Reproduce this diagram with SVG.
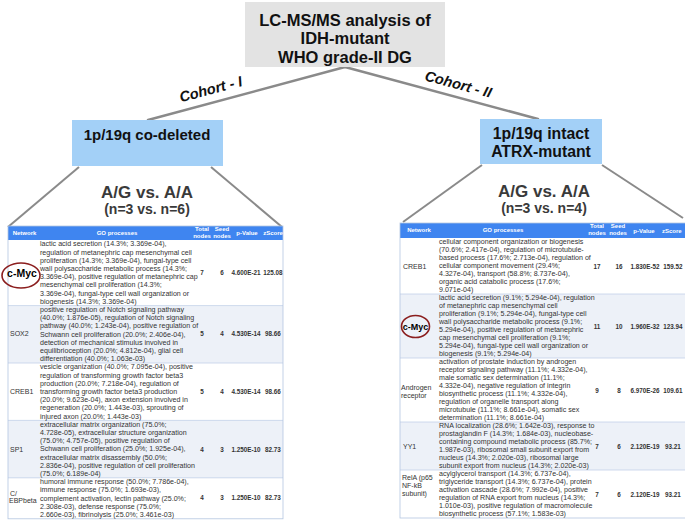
<svg xmlns="http://www.w3.org/2000/svg" width="685" height="521" viewBox="0 0 685 521">
<style>
text{font-family:"Liberation Sans",Arial,sans-serif}
.top{font-size:16.5px;font-weight:bold;fill:#111;text-anchor:middle}
.grp{font-size:15.8px;font-weight:bold;fill:#111;text-anchor:middle}
.cmp{font-size:17px;font-weight:bold;fill:#3a3a3a;text-anchor:middle}
.n{font-size:14px;font-weight:bold;fill:#3a3a3a;text-anchor:middle}
.coh{font-size:14.5px;font-weight:bold;font-style:italic;fill:#111;text-anchor:middle}
.hdr{font-size:6px;font-weight:bold;fill:#fff;text-anchor:middle}
.go{font-size:7.1px;fill:#333}
.net{font-size:7px;fill:#333}
.val{font-size:6.3px;font-weight:bold;fill:#333;text-anchor:middle}
.myc{font-weight:bold;fill:#000;text-anchor:middle}
.conn{stroke:#8a8a8a;stroke-width:2.5;fill:none;stroke-linecap:round}
.trap{stroke:#8a8a8a;stroke-width:2;fill:none}
.hbar{fill:#3f85f0}
.alt{fill:#edf1f8}
.sep{stroke:#c3d1e8;stroke-width:0.8}
.frame{fill:none;stroke:#b3c5e0;stroke-width:0.8}
.ring{fill:none;stroke:#8b1e1e;stroke-width:1.6}
</style>

<g id="connectors">
  <line class="conn" x1="345" y1="67" x2="148" y2="120"/>
  <line class="conn" x1="345" y1="67" x2="538" y2="119"/>
  <line class="trap" x1="79" y1="167" x2="8" y2="227"/>
  <line class="trap" x1="211" y1="167" x2="282" y2="227"/>
  <line class="trap" x1="482" y1="165" x2="403" y2="222"/>
  <line class="trap" x1="602" y1="165" x2="683" y2="218"/>
  <text class="coh" transform="translate(212,94) rotate(-15)">Cohort - I</text>
  <text class="coh" transform="translate(457,89) rotate(15)">Cohort - II</text>
</g>

<g id="root">
  <rect x="245" y="2" width="200" height="65" fill="#e3e3e3"/>
  <text class="top" x="345" y="25.5">LC-MS/MS analysis of</text>
  <text class="top" x="345" y="44">IDH-mutant</text>
  <text class="top" x="345" y="62.5">WHO grade-II DG</text>
</g>

<g id="cohort1">
  <rect x="72" y="120" width="151" height="46" fill="#a3d0f7"/>
  <text class="grp" x="147" y="140" style="font-size:15px">1p/19q co-deleted</text>
  <text class="cmp" x="147" y="198">A/G vs. A/A</text>
  <text class="n" x="147" y="214">(n=3 vs. n=6)</text>
</g>

<g id="cohort2">
  <rect x="480" y="119" width="122" height="45" fill="#a3d0f7"/>
  <text class="grp" x="541" y="139">1p/19q intact</text>
  <text class="grp" x="541" y="157">ATRX-mutant</text>
  <text class="cmp" x="544" y="197">A/G vs. A/A</text>
  <text class="n" x="544" y="213">(n=3 vs. n=4)</text>
</g>

<g id="table1">
  <rect x="8" y="240" width="275" height="278.8" fill="#fff"/>
  <rect class="alt" x="8" y="305.6" width="275" height="57.4"/>
  <rect class="alt" x="8" y="420.4" width="275" height="57.4"/>
  <rect class="hbar" x="8" y="226" width="275" height="14"/>
  <line class="sep" x1="8" y1="305.6" x2="283" y2="305.6"/>
  <line class="sep" x1="8" y1="363" x2="283" y2="363"/>
  <line class="sep" x1="8" y1="420.4" x2="283" y2="420.4"/>
  <line class="sep" x1="8" y1="477.8" x2="283" y2="477.8"/>
  <rect class="frame" x="8" y="226" width="275" height="292.8"/>
  <text class="hdr" x="24.5" y="234.5">Network</text>
  <text class="hdr" x="117" y="234.5">GO processes</text>
  <text class="hdr" x="202" y="231">Total</text>
  <text class="hdr" x="202" y="237.5">nodes</text>
  <text class="hdr" x="222" y="231">Seed</text>
  <text class="hdr" x="222" y="237.5">nodes</text>
  <text class="hdr" x="247" y="234.5">p-Value</text>
  <text class="hdr" x="273" y="234.5">zScore</text>

  <g id="t1-cmyc">
    <ellipse class="ring" cx="21" cy="275.5" rx="19" ry="12.5"/>
    <text class="myc" x="22" y="276.5" font-size="10.5">c-Myc</text>
    <text class="go" y="246.3"><tspan x="40">lactic acid secretion (14.3%; 3.369e-04),</tspan><tspan x="40" dy="8.2">regulation of metanephric cap mesenchymal cell</tspan><tspan x="40" dy="8.2">proliferation (14.3%; 3.369e-04), fungal-type cell</tspan><tspan x="40" dy="8.2">wall polysaccharide metabolic process (14.3%;</tspan><tspan x="40" dy="8.2">3.369e-04), positive regulation of metanephric cap</tspan><tspan x="40" dy="8.2">mesenchymal cell proliferation (14.3%;</tspan><tspan x="40" dy="8.2">3.369e-04), fungal-type cell wall organization or</tspan><tspan x="40" dy="8.2">biogenesis (14.3%; 3.369e-04)</tspan></text>
    <text class="val" y="275"><tspan x="202">7</tspan><tspan x="222">6</tspan><tspan x="246">4.600E-21</tspan><tspan x="273">125.08</tspan></text>
  </g>
  <g id="t1-sox2">
    <text class="net" x="10" y="336">SOX2</text>
    <text class="go" y="311.9"><tspan x="40">positive regulation of Notch signaling pathway</tspan><tspan x="40" dy="8.2">(40.0%; 1.876e-05), regulation of Notch signaling</tspan><tspan x="40" dy="8.2">pathway (40.0%; 1.243e-04), positive regulation of</tspan><tspan x="40" dy="8.2">Schwann cell proliferation (20.0%; 2.406e-04),</tspan><tspan x="40" dy="8.2">detection of mechanical stimulus involved in</tspan><tspan x="40" dy="8.2">equilibrioception (20.0%; 4.812e-04), glial cell</tspan><tspan x="40" dy="8.2">differentiation (40.0%; 1.063e-03)</tspan></text>
    <text class="val" y="336"><tspan x="202">5</tspan><tspan x="222">4</tspan><tspan x="246">4.530E-14</tspan><tspan x="273">98.66</tspan></text>
  </g>
  <g id="t1-creb1">
    <text class="net" x="10" y="394">CREB1</text>
    <text class="go" y="369.3"><tspan x="40">vesicle organization (40.0%; 7.095e-04), positive</tspan><tspan x="40" dy="8.2">regulation of transforming growth factor beta3</tspan><tspan x="40" dy="8.2">production (20.0%; 7.218e-04), regulation of</tspan><tspan x="40" dy="8.2">transforming growth factor beta3 production</tspan><tspan x="40" dy="8.2">(20.0%; 9.623e-04), axon extension involved in</tspan><tspan x="40" dy="8.2">regeneration (20.0%; 1.443e-03), sprouting of</tspan><tspan x="40" dy="8.2">injured axon (20.0%; 1.443e-03)</tspan></text>
    <text class="val" y="394"><tspan x="202">5</tspan><tspan x="222">4</tspan><tspan x="246">4.530E-14</tspan><tspan x="273">98.66</tspan></text>
  </g>
  <g id="t1-sp1">
    <text class="net" x="10" y="452">SP1</text>
    <text class="go" y="426.7"><tspan x="40">extracellular matrix organization (75.0%;</tspan><tspan x="40" dy="8.2">4.728e-05), extracellular structure organization</tspan><tspan x="40" dy="8.2">(75.0%; 4.757e-05), positive regulation of</tspan><tspan x="40" dy="8.2">Schwann cell proliferation (25.0%; 1.925e-04),</tspan><tspan x="40" dy="8.2">extracellular matrix disassembly (50.0%;</tspan><tspan x="40" dy="8.2">2.836e-04), positive regulation of cell proliferation</tspan><tspan x="40" dy="8.2">(75.0%; 6.189e-04)</tspan></text>
    <text class="val" y="452"><tspan x="202">4</tspan><tspan x="222">3</tspan><tspan x="246">1.250E-10</tspan><tspan x="273">82.73</tspan></text>
  </g>
  <g id="t1-cebp">
    <text class="net" y="495.5"><tspan x="10">C/</tspan><tspan x="9" dy="7.8">EBPbeta</tspan></text>
    <text class="go" y="484.1"><tspan x="40">humoral immune response (50.0%; 7.786e-04),</tspan><tspan x="40" dy="8.2">immune response (75.0%; 1.693e-03),</tspan><tspan x="40" dy="8.2">complement activation, lectin pathway (25.0%;</tspan><tspan x="40" dy="8.2">2.308e-03), defense response (75.0%;</tspan><tspan x="40" dy="8.2">2.660e-03), fibrinolysis (25.0%; 3.461e-03)</tspan></text>
    <text class="val" y="500"><tspan x="202">4</tspan><tspan x="222">3</tspan><tspan x="246">1.250E-10</tspan><tspan x="273">82.73</tspan></text>
  </g>
</g>

<g id="table2">
  <rect x="400" y="238" width="286" height="280" fill="#fff"/>
  <rect class="alt" x="400" y="294" width="286" height="64"/>
  <rect class="alt" x="400" y="422" width="286" height="48"/>
  <rect class="hbar" x="400" y="223" width="286" height="15"/>
  <line class="sep" x1="400" y1="294" x2="685" y2="294"/>
  <line class="sep" x1="400" y1="358" x2="685" y2="358"/>
  <line class="sep" x1="400" y1="422" x2="685" y2="422"/>
  <line class="sep" x1="400" y1="470" x2="685" y2="470"/>
  <rect class="frame" x="400" y="223" width="290" height="295"/>
  <text class="hdr" x="419" y="232">Network</text>
  <text class="hdr" x="503" y="232">GO processes</text>
  <text class="hdr" x="597" y="228">Total</text>
  <text class="hdr" x="597" y="235">nodes</text>
  <text class="hdr" x="618" y="228">Seed</text>
  <text class="hdr" x="618" y="235">nodes</text>
  <text class="hdr" x="644" y="232.5">p-Value</text>
  <text class="hdr" x="662" y="232.5" style="text-anchor:start">zScore</text>

  <g id="t2-creb1">
    <text class="net" x="403" y="268.5">CREB1</text>
    <text class="go" y="244"><tspan x="439">cellular component organization or biogenesis</tspan><tspan x="439" dy="8">(70.6%; 2.417e-04), regulation of microtubule-</tspan><tspan x="439" dy="8">based process (17.6%; 2.713e-04), regulation of</tspan><tspan x="439" dy="8">cellular component movement (29.4%;</tspan><tspan x="439" dy="8">4.327e-04), transport (58.8%; 8.737e-04),</tspan><tspan x="439" dy="8">organic acid catabolic process (17.6%;</tspan><tspan x="439" dy="8">9.071e-04)</tspan></text>
    <text class="val" y="268.5"><tspan x="597">17</tspan><tspan x="619">16</tspan><tspan x="645">1.830E-52</tspan><tspan x="673">159.52</tspan></text>
  </g>
  <g id="t2-cmyc">
    <ellipse class="ring" cx="415.5" cy="326.5" rx="14" ry="11"/>
    <text class="myc" x="415.5" y="329.7" font-size="9">c-Myc</text>
    <text class="go" y="300"><tspan x="439">lactic acid secretion (9.1%; 5.294e-04), regulation</tspan><tspan x="439" dy="8">of metanephric cap mesenchymal cell</tspan><tspan x="439" dy="8">proliferation (9.1%; 5.294e-04), fungal-type cell</tspan><tspan x="439" dy="8">wall polysaccharide metabolic process (9.1%;</tspan><tspan x="439" dy="8">5.294e-04), positive regulation of metanephric</tspan><tspan x="439" dy="8">cap mesenchymal cell proliferation (9.1%;</tspan><tspan x="439" dy="8">5.294e-04), fungal-type cell wall organization or</tspan><tspan x="439" dy="8">biogenesis (9.1%; 5.294e-04)</tspan></text>
    <text class="val" y="328.5"><tspan x="597">11</tspan><tspan x="619">10</tspan><tspan x="645">1.960E-32</tspan><tspan x="673">123.94</tspan></text>
  </g>
  <g id="t2-ar">
    <text class="net" y="390"><tspan x="401">Androgen</tspan><tspan x="401" dy="8">receptor</tspan></text>
    <text class="go" y="364"><tspan x="439">activation of prostate induction by androgen</tspan><tspan x="439" dy="8">receptor signaling pathway (11.1%; 4.332e-04),</tspan><tspan x="439" dy="8">male somatic sex determination (11.1%;</tspan><tspan x="439" dy="8">4.332e-04), negative regulation of integrin</tspan><tspan x="439" dy="8">biosynthetic process (11.1%; 4.332e-04),</tspan><tspan x="439" dy="8">regulation of organelle transport along</tspan><tspan x="439" dy="8">microtubule (11.1%; 8.661e-04), somatic sex</tspan><tspan x="439" dy="8">determination (11.1%; 8.661e-04)</tspan></text>
    <text class="val" y="392.5"><tspan x="597">9</tspan><tspan x="619">8</tspan><tspan x="645">6.970E-26</tspan><tspan x="673">109.61</tspan></text>
  </g>
  <g id="t2-yy1">
    <text class="net" x="403" y="448.5">YY1</text>
    <text class="go" y="428"><tspan x="439">RNA localization (28.6%; 1.642e-03), response to</tspan><tspan x="439" dy="8">prostaglandin F (14.3%; 1.684e-03), nucleobase-</tspan><tspan x="439" dy="8">containing compound metabolic process (85.7%;</tspan><tspan x="439" dy="8">1.987e-03), ribosomal small subunit export from</tspan><tspan x="439" dy="8">nucleus (14.3%; 2.020e-03), ribosomal large</tspan><tspan x="439" dy="8">subunit export from nucleus (14.3%; 2.020e-03)</tspan></text>
    <text class="val" y="448.5"><tspan x="597">7</tspan><tspan x="619">6</tspan><tspan x="645">2.120E-19</tspan><tspan x="673">93.21</tspan></text>
  </g>
  <g id="t2-rela">
    <text class="net" y="480"><tspan x="402">RelA (p65</tspan><tspan x="402" dy="8">NF-kB</tspan><tspan x="402" dy="8">subunit)</tspan></text>
    <text class="go" y="476"><tspan x="439">acylglycerol transport (14.3%; 6.737e-04),</tspan><tspan x="439" dy="8">triglyceride transport (14.3%; 6.737e-04), protein</tspan><tspan x="439" dy="8">activation cascade (28.6%; 7.992e-04), positive</tspan><tspan x="439" dy="8">regulation of RNA export from nucleus (14.3%;</tspan><tspan x="439" dy="8">1.010e-03), positive regulation of macromolecule</tspan><tspan x="439" dy="8">biosynthetic process (57.1%; 1.583e-03)</tspan></text>
    <text class="val" y="496.5"><tspan x="597">7</tspan><tspan x="619">6</tspan><tspan x="645">2.120E-19</tspan><tspan x="673">93.21</tspan></text>
  </g>
</g>
</svg>
